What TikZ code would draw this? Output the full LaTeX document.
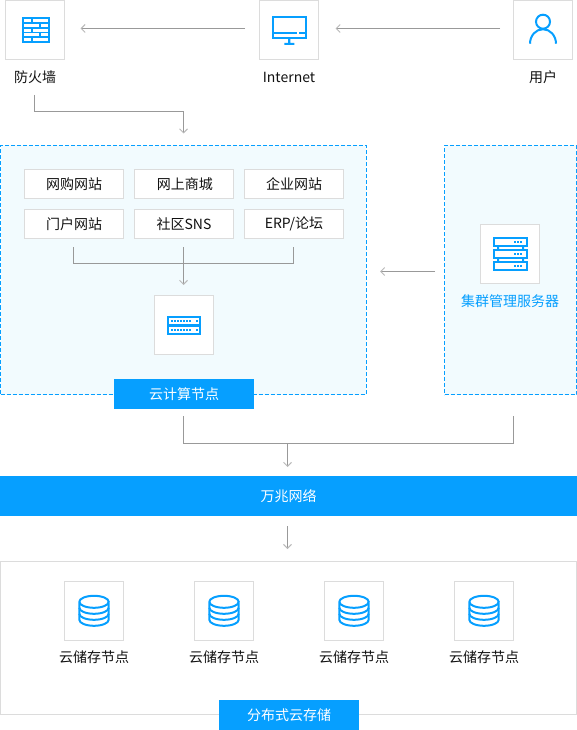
\documentclass[tikz,border=0pt]{standalone}
\usepackage{fontspec}
\setmainfont{Noto Sans CJK SC}
\usetikzlibrary{arrows.meta,calc}
\definecolor{bl}{HTML}{069FFF}
\definecolor{zone}{HTML}{F2FBFE}
\definecolor{bd}{HTML}{DCDCDC}
\definecolor{ln}{HTML}{999999}
\definecolor{tx}{HTML}{111111}
\tikzset{
  x=1pt,y=-1pt,
  every node/.style={inner sep=0,outer sep=0,font=\fontsize{14}{16}\selectfont,text=tx},
  icobox/.style={draw=bd,line width=1pt,fill=white,minimum width=59pt,minimum height=59pt},
  sitebox/.style={draw=bd,line width=1pt,fill=white,minimum width=99pt,minimum height=29pt},
  zonebox/.style={draw=bl,line width=1pt,fill=zone,dash pattern=on 4pt off 2pt},
  tag/.style={fill=bl,text=white,minimum width=140pt,minimum height=30pt},
  conn/.style={draw=ln,line width=1pt},
  arr/.style={conn,-{Straight Barb[length=4pt,width=8pt,color=ln!70]}},
  ic/.style={draw=bl,line width=2pt},
  dbicon/.pic={
    \draw[ic] (-14.7,-9) arc[start angle=180,end angle=-180,x radius=14.7,y radius=6]
      (-14.7,-9) -- (-14.7,9) arc[start angle=180,end angle=0,x radius=14.7,y radius=6] -- (14.7,-9);
    \draw[ic] (-14.7,-3) arc[start angle=180,end angle=0,x radius=14.7,y radius=6];
    \draw[ic] (-14.7,3) arc[start angle=180,end angle=0,x radius=14.7,y radius=6];
  }
}
\begin{document}
\begin{tikzpicture}
\useasboundingbox (0,0) rectangle (577,730);
% top row
\node[icobox] (fw) at (35,30) {};
\node[icobox] (net) at (289,30) {};
\node[icobox] (usr) at (543,30) {};
\node (fwl) at (35,77) {防火墙};
\node (netl) at (289,77) {Internet};
\node (usrl) at (543,77) {用户};
% firewall icon
\fill[bl] (22,17) rectangle (50,43.4);
\foreach \y in {19.4,28.6,38}{
  \fill[white] (24,\y) rectangle ++(6.5,3);
  \fill[white] (32.5,\y) rectangle ++(15.7,3);
}
\foreach \y in {24,33}{
  \fill[white] (24,\y) rectangle ++(14.5,3);
  \fill[white] (40.8,\y) rectangle ++(7.4,3);
}
% monitor icon
\draw[ic] (273,17.4) rectangle (305.5,38.4);
\draw[ic] (273,33) -- (296.5,33) (299.3,33) -- (305.5,33);
\fill[bl] (288,38) rectangle (290.3,43.5) (284.3,43) rectangle (294.3,44.8);
% user icon
\draw[ic] (543,21.7) circle[radius=7];
\draw[ic] (530,43.7) arc[start angle=180,end angle=360,x radius=13,y radius=14.5];
% zones
\node[zonebox,minimum width=365.5pt,minimum height=249pt] (cloud) at (183.25,270) {};
\node[zonebox,minimum width=132pt,minimum height=249pt] (mgrz) at (510.5,270) {};
\node[sitebox] (s1) at (74,184) {网购网站};
\node[sitebox] (s2) at (184,184) {\hspace{1.5pt}网上商城};
\node[sitebox] (s3) at (294,184) {企业网站};
\node[sitebox] (s4) at (74,224) {门户网站};
\node[sitebox] (s5) at (184,224) {社区SNS};
\node[sitebox] (s6) at (294,224) {ERP/论坛};
\node[icobox] (srv) at (184,325) {};
\node[tag] (cl) at (184,394) {云计算节点};
\node[icobox] (mgr) at (510,254) {};
\node[text=bl] (mgrl) at (510,301) {集群管理服务器};
% switch icon
\foreach \y in {317,326}{
  \draw[ic] (168.2,\y) rectangle (200,\y+8);
  \foreach \d in {0,1,...,6} \fill[bl] (171+\d*3.05,\y+2.8) rectangle ++(2,2.2);
  \fill[bl] (195.6,\y+2.8) rectangle ++(2,2.2);
}
% server stack icon
\foreach \y in {238.3,250.3,262.3}{
  \draw[ic] (494,\y) rectangle (527,\y+8);
  \foreach \d in {0,1,2} \fill[bl] (513.8+\d*3.05,\y+2.8) rectangle ++(2,2.2);
}
\fill[bl] (497,246) rectangle (499.2,249.5) (522,246) rectangle (524.2,249.5)
          (497,258) rectangle (499.2,261.5) (522,258) rectangle (524.2,261.5);
% bar
\node[fill=bl,text=white,minimum width=577pt,minimum height=40pt] (bar) at (288.5,496) {万兆网络};
% storage
\node[draw=bd,line width=1pt,fill=white,minimum width=576pt,minimum height=153pt] (store) at (288.5,637.5) {};
\foreach \i/\x in {1/94,2/224,3/354,4/484}{
  \node[icobox] (st\i) at (\x,611) {};
  \node (stl\i) at (\x,657) {云储存节点};
  \pic at (\x,610.8) {dbicon};
}
\node[tag] (sl) at (289,715) {分布式云存储};
% connectors
\coordinate (f0) at (34.5,95);
\coordinate (m1) at (183.5,263.5);
\coordinate (c1) at (183.5,416);
\coordinate (c2) at (513,416);
\coordinate (m2) at (287.5,443.5);
\draw[arr,shorten <=14.5pt,shorten >=16pt] ([yshift=1.5pt]net.west) -- ([yshift=1.5pt]fw.east);
\draw[arr,shorten <=13.5pt,shorten >=17pt] ([yshift=1.5pt]usr.west) -- ([yshift=1.5pt]net.east);
\draw[arr,shorten >=12pt] (f0) -- ++(0,16.5) -| ([xshift=.25pt]cloud.north);
\draw[conn,shorten <=8.5pt,shorten >=8.5pt] ([xshift=-.5pt]s4.south) |- (m1) -| ([xshift=-.5pt]s6.south);
\draw[arr,shorten <=8.5pt,shorten >=10.5pt] ([xshift=-.5pt]s5.south) -- ([xshift=-.5pt]srv.north);
\draw[arr,shorten <=9.5pt,shorten >=14pt] ([yshift=-1.5pt]mgrz.west) -- ([yshift=-1.5pt]cloud.east);
\draw[conn] (c1) |- (m2) -| (c2);
\draw[arr,shorten >=9pt] (m2) -- (m2 |- bar.north);
\draw[arr,shorten <=10pt,shorten >=12pt] (m2 |- bar.south) -- (m2 |- store.north);
\end{tikzpicture}
\end{document}
